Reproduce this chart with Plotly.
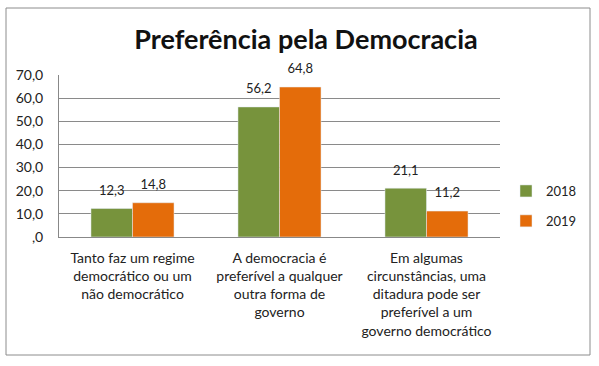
import plotly.graph_objects as go

categories = [
    "Tanto faz um regime<br>democrático ou um<br>não democrático",
    "A democracia é<br>preferível a qualquer<br>outra forma de<br>governo",
    "Em algumas<br>circunstâncias, uma<br>ditadura pode ser<br>preferível a um<br>governo democrático",
]
series_names = ["2018", "2019"]
values_2018 = [12.3, 56.2, 21.1]
values_2019 = [14.8, 64.8, 11.2]
tick_vals = [0, 10, 20, 30, 40, 50, 60, 70]
tick_text = [",0", "10,0", "20,0", "30,0", "40,0", "50,0", "60,0", "70,0"]
colors = ["#77933C", "#E46C0A"]

FONT = "Lato, 'Open Sans', sans-serif"

def fmt(v):
    return f"{v:.1f}".replace(".", ",")

fig = go.Figure()
for name, vals, col in zip(series_names, [values_2018, values_2019], colors):
    fig.add_trace(go.Bar(
        x=categories, y=vals, name=name, marker_color=col, legendgroup=name,
        offsetgroup=name, hoverinfo="x+y+name",
    ))
for name, vals in zip(series_names, [values_2018, values_2019]):
    fig.add_trace(go.Scatter(
        x=categories, y=vals, name=name, legendgroup=name, offsetgroup=name,
        mode="markers+text", marker=dict(size=15, opacity=0),
        text=[fmt(v) for v in vals], textposition="top center",
        textfont=dict(size=13, color="#222222", family=FONT),
        showlegend=False, hoverinfo="skip", cliponaxis=False,
    ))

W, H = 599, 366
L, R, T, B = 59, 500, 75, 237
pw, ph = R - L, B - T

def px_x(p):
    return (p - L) / pw

def px_y(p):
    return (B - p) / ph

fig.update_layout(
    width=W, height=H,
    margin=dict(l=L, r=W - R, t=T, b=H - B, pad=0, autoexpand=False),
    paper_bgcolor="white", plot_bgcolor="white",
    barmode="group", bargap=0.435, bargroupgap=0,
    scattermode="group", scattergap=0.435,
    font=dict(family=FONT, size=13, color="#222222"),
    title=dict(text="<b>Preferência pela Democracia</b>",
               x=px_x(306), xref="paper", xanchor="center",
               y=1 - 40 / H, yref="container", yanchor="middle",
               font=dict(size=27, color="#111111", family=FONT)),
    legend=dict(x=px_x(506), xanchor="left", y=px_y(206), yanchor="middle",
                font=dict(size=13, color="#222222"),
                itemwidth=30, tracegroupgap=10, bgcolor="rgba(0,0,0,0)"),
    showlegend=True,
    shapes=[dict(type="rect", xref="paper", yref="paper",
                 x0=px_x(6), x1=px_x(590), y0=px_y(355), y1=px_y(8),
                 line=dict(color="#8c8c8c", width=1), layer="below")],
)
fig.update_xaxes(showline=True, linecolor="#888888", linewidth=1, automargin=False,
                 showgrid=False, ticks="", ticklabelstandoff=8,
                 tickfont=dict(size=14, color="#222222"))
fig.update_yaxes(range=[0, 70], tickvals=tick_vals, ticktext=tick_text, automargin=False,
                 showgrid=True, gridcolor="#8a8a8a", gridwidth=1,
                 showline=True, linecolor="#888888", linewidth=1,
                 ticks="", ticklen=0, ticklabelstandoff=12,
                 tickfont=dict(size=14, color="#222222"),
                 zeroline=False)

fig.write_html("out.html", config={"displayModeBar": False},
               post_script="document.body.style.margin='0';document.body.style.overflow='hidden';")
